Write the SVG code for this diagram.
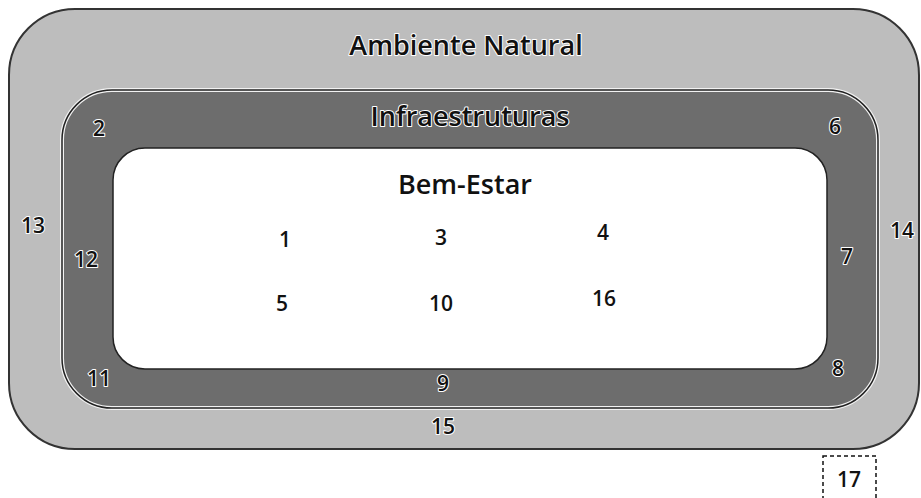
<svg xmlns="http://www.w3.org/2000/svg" width="921" height="498" viewBox="0 0 921 498">
<style>
.t{font-family:"Open Sans","Noto Sans","Liberation Sans",sans-serif;fill:#111;text-anchor:middle;font-weight:600}
.h{paint-order:stroke;stroke:#fff;stroke-width:2;stroke-linejoin:round}
.big{font-size:27px}
.num{font-size:21px}
</style>
<rect width="921" height="498" fill="#fff"/>
<g id="ambiente">
<rect x="9" y="9" width="910" height="440" rx="66" fill="#bdbdbd" stroke="#333" stroke-width="2"/>
<text class="t big h" x="466" y="55">Ambiente Natural</text>
</g>
<g id="infra">
<rect x="62" y="90" width="816" height="318" rx="50" fill="#6d6d6d" stroke="#f2f2f2" stroke-width="4"/>
<rect x="62" y="90" width="816" height="318" rx="50" fill="none" stroke="#222" stroke-width="1.5"/>
<text class="t big h" x="470" y="126">Infraestruturas</text>
</g>
<g id="bem">
<rect x="113" y="148" width="714" height="221" rx="32" fill="#fff" stroke="#222" stroke-width="1.5"/>
<text class="t big" x="465" y="194">Bem-Estar</text>
</g>
<g id="labels">
<text class="t num h" x="99" y="136">2</text>
<text class="t num h" x="835" y="134">6</text>
<text class="t num h" x="33" y="233">13</text>
<text class="t num h" x="902" y="238">14</text>
<text class="t num h" x="86" y="267">12</text>
<text class="t num h" x="847" y="264">7</text>
<text class="t num" x="285" y="247">1</text>
<text class="t num" x="441" y="245">3</text>
<text class="t num" x="603" y="240">4</text>
<text class="t num" x="282" y="311">5</text>
<text class="t num" x="441" y="311">10</text>
<text class="t num" x="604" y="306">16</text>
<text class="t num h" x="99" y="386">11</text>
<text class="t num h" x="443" y="391">9</text>
<text class="t num h" x="838" y="376">8</text>
<text class="t num h" x="443" y="434">15</text>
</g>
<g id="n17">
<rect x="823" y="456" width="53" height="46" fill="none" stroke="#111" stroke-width="1.5" stroke-dasharray="4,3"/>
<text class="t num" x="849" y="487">17</text>
</g>
</svg>
